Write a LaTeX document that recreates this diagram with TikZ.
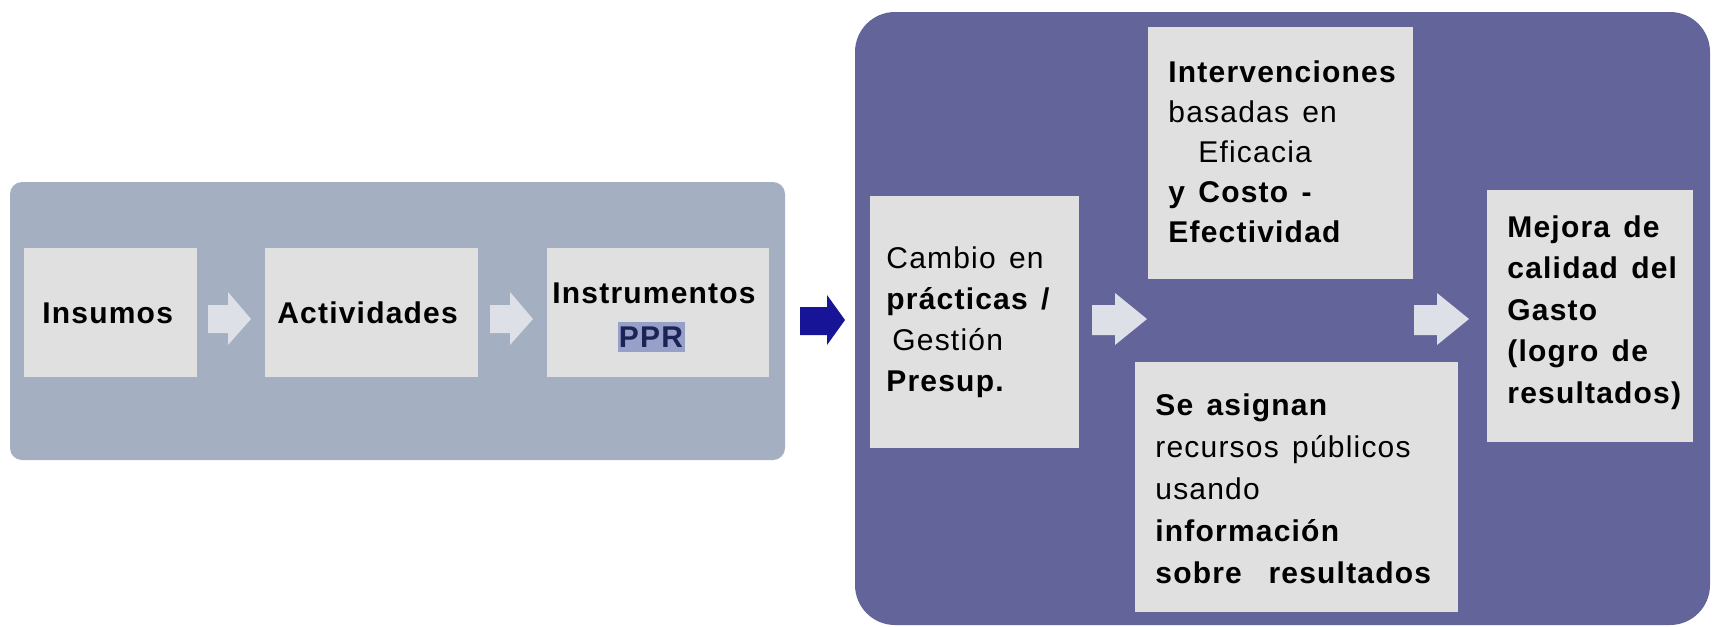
\documentclass[tikz,border=0pt]{standalone}
\usepackage{fontspec}
\setmainfont{Liberation Sans}[LetterSpace=4,WordSpace=1.4]
\usetikzlibrary{fit}
\definecolor{lpanel}{RGB}{164,175,193}
\definecolor{rpanel}{RGB}{99,101,154}
\definecolor{boxgray}{RGB}{224,224,224}
\definecolor{lightarrow}{RGB}{222,224,231}
\definecolor{bluearrow}{RGB}{24,20,152}
\definecolor{pprhl}{RGB}{150,160,200}
\definecolor{pprtext}{RGB}{30,35,85}
\newcommand{\mylines}[1]{\begin{tabular}[t]{@{}l@{}}#1\end{tabular}}
\begin{document}
\begin{tikzpicture}[x=0.5pt,y=-0.5pt,
  panelL/.style={fill=lpanel,draw=none,rounded corners=6pt,inner sep=0},
  panelR/.style={fill=rpanel,draw=none,rounded corners=20pt,inner sep=0},
  box/.style={fill=boxgray,draw=none,inner sep=0},
  lbl/.style={anchor=base west,inner sep=0,font=\fontsize{15}{20.5}\selectfont\bfseries},
  larrow/.style={fill=lightarrow},
  barrow/.style={fill=bluearrow}]
\useasboundingbox (0,0) rectangle (1715,627);
\fill[white] (0,0) rectangle (1715,627);
% panels
\node[panelL,fit={(10,182) (785,460)}] (pl) {};
\node[panelR,fit={(855,12) (1710,625)}] (pr) {};
% left boxes
\node[box,fit={(24,248) (197,377)}] (ins) {};
\node[box,fit={(265,248) (478,377)}] (act) {};
\node[box,fit={(547,248) (769,377)}] (ins2) {};
% right boxes
\node[box,fit={(870,196) (1079,448)}] (cam) {};
\node[box,fit={(1148,27) (1413,279)}] (int) {};
\node[box,fit={(1135,362) (1458,612)}] (asi) {};
\node[box,fit={(1487,190) (1693,442)}] (mej) {};
% texts
\node[lbl] (tins) at (42,323) {Insumos};
\node[lbl] (tact) at (277,323) {Actividades};
\node[lbl] (tinst) at (552,303) {Instrumentos};
\node[fill=pprhl,text=pprtext,inner sep=0,minimum width=33.5pt,minimum height=15pt,
      font=\fontsize{15}{18}\selectfont\bfseries] (tppr) at (651,337) {PPR};
\node[lbl] (tcam) at (886,268) {\mylines{\mdseries Cambio en\\
  prácticas /\\ \hspace*{3pt}\mdseries Gestión\\ Presup.}};
\node[lbl,font=\fontsize{15}{20}\selectfont\bfseries] (tint) at (1168,82) {\mylines{Intervenciones\\
  \mdseries basadas en\\ \hspace*{15pt}\mdseries Eficacia\\ y Costo -\\ Efectividad}};
\node[lbl,font=\fontsize{15}{21}\selectfont\bfseries] (tasi) at (1155,415) {\mylines{Se asignan\\
  \mdseries recursos públicos\\ \mdseries usando\\ información\\ sobre\ \ resultados}};
\node[lbl,font=\fontsize{15}{20.75}\selectfont\bfseries] (tmej) at (1507,237) {\mylines{Mejora de\\
  calidad del\\ Gasto\\ (logro de\\ resultados)}};
% arrows
\fill[larrow] (208,305) -- (228,305) -- (228,292) -- (251,319) -- (228,345) -- (228,333) -- (208,333) -- cycle;
\fill[larrow] (490,305) -- (510,305) -- (510,292) -- (533,319) -- (510,345) -- (510,333) -- (490,333) -- cycle;
\fill[barrow] (800,307) -- (827,307) -- (827,295) -- (845,320) -- (827,345) -- (827,335) -- (800,335) -- cycle;
\fill[larrow] (1092,305) -- (1115,305) -- (1115,293) -- (1147,319) -- (1115,345) -- (1115,335) -- (1092,335) -- cycle;
\fill[larrow] (1414,305) -- (1437,305) -- (1437,293) -- (1469,319) -- (1437,345) -- (1437,335) -- (1414,335) -- cycle;
\end{tikzpicture}
\end{document}
